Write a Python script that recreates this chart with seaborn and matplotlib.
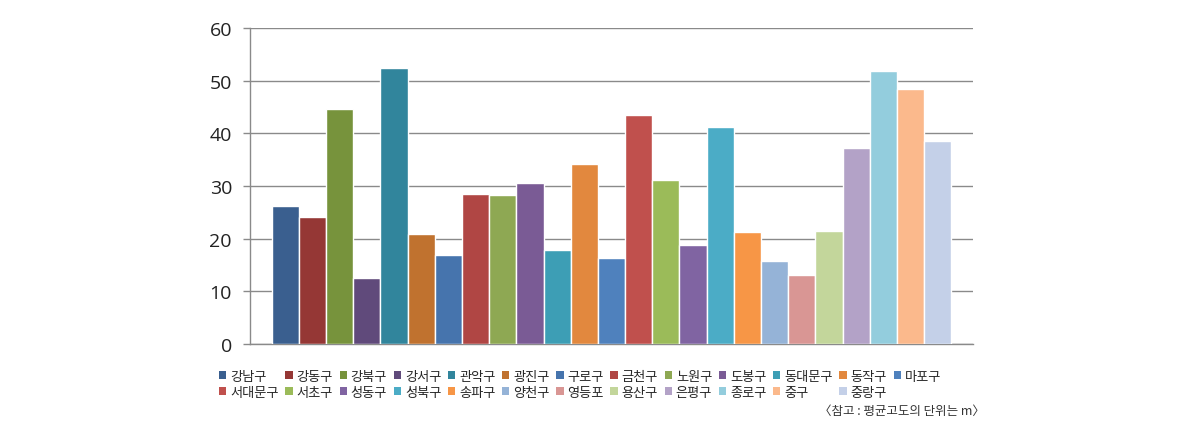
import matplotlib
matplotlib.use("Agg")
import matplotlib.pyplot as plt
import seaborn as sns
import pandas as pd

districts = ["강남구", "강동구", "강북구", "강서구", "관악구", "광진구", "구로구", "금천구",
             "노원구", "도봉구", "동대문구", "동작구", "마포구", "서대문구", "서초구", "성동구",
             "성북구", "송파구", "양천구", "영등포", "용산구", "은평구", "종로구", "중구", "중랑구"]
altitude = [26.2, 24.1, 44.6, 12.5, 52.4, 20.8, 16.9, 28.5, 28.3, 30.6, 17.8, 34.2, 16.3,
            43.5, 31.1, 18.8, 41.2, 21.3, 15.7, 13.1, 21.4, 37.2, 51.8, 48.4, 38.5]
colors = ["#3A5F8F", "#953735", "#77933C", "#604A7B", "#31859C", "#C0722F",
          "#4674AD", "#B04644", "#8EA853", "#7A5B95", "#3D9EB5", "#E2883E",
          "#4F81BD", "#C0504D", "#9BBB59", "#8064A2", "#4BACC6", "#F79646",
          "#95B3D7", "#D99694", "#C3D69B", "#B3A2C7", "#93CDDD", "#FBB98C", "#C4D0E8"]
yticks = [0, 10, 20, 30, 40, 50, 60]
note = "〈참고 : 평균고도의 단위는 m〉"

sns.set_theme(style="white")
plt.rcParams['font.family'] = ['Noto Sans CJK KR', 'DejaVu Sans']

df = pd.DataFrame({"grp": [""] * len(districts), "구": districts, "고도": altitude})

fig = plt.figure(figsize=(11.9, 4.39), dpi=100)
ax = fig.add_axes([250 / 1190, 1 - 345 / 439, 723 / 1190, 316 / 439])

sns.barplot(data=df, x="grp", y="고도", hue="구", hue_order=districts,
            palette=colors, saturation=1, width=0.94, edgecolor="white",
            linewidth=1.0, ax=ax, zorder=3)

ax.set_ylim(0, 60)
ax.set_xlim(-0.5, 0.5)
ax.set_yticks(yticks)
ax.set_yticklabels([str(t) for t in yticks], fontsize=14, color="#222222",
                   family=["Open Sans", "DejaVu Sans"])
ax.set_xticks([])
ax.set_xlabel("")
ax.set_ylabel("")
ax.yaxis.grid(True, color="#8a8a8a", linewidth=1.0, zorder=0)
ax.set_axisbelow(True)
for s in ["top", "right"]:
    ax.spines[s].set_visible(False)
for s in ["left", "bottom"]:
    ax.spines[s].set_color("#8a8a8a")
    ax.spines[s].set_linewidth(1.0)
ax.tick_params(axis="y", which="major", left=True, length=5, width=1.0,
               color="#8a8a8a", direction="out", pad=8)

handles, labels = ax.get_legend_handles_labels()
ax.get_legend().remove()
row1 = list(range(13))
row2 = list(range(13, 25))
order = []
for i in range(13):
    order.append(row1[i])
    if i < len(row2):
        order.append(row2[i])
leg = fig.legend([handles[i] for i in order], [labels[i] for i in order],
                 ncol=13, loc="upper left", bbox_to_anchor=(219 / 1190, 1 - 371 / 439),
                 frameon=False, fontsize=9.5, handlelength=0.55, handleheight=0.55,
                 handletextpad=0.3, columnspacing=0.5, labelspacing=0.2,
                 borderaxespad=0, borderpad=0)
for h in leg.legend_handles:
    h.set_edgecolor("none")

fig.text(985 / 1190, 1 - 411 / 439, note, ha="right", va="center", fontsize=9,
         color="#333333", style="italic")

fig.savefig("out.png", dpi=100, facecolor="white")
